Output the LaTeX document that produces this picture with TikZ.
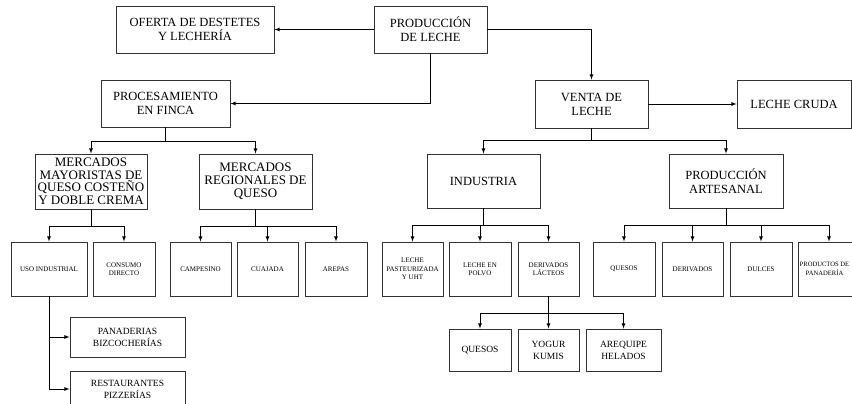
\documentclass[tikz,border=0pt]{standalone}
\usepackage{fontspec}
\setmainfont{Liberation Serif}
\usetikzlibrary{calc,arrows,positioning}

\begin{document}
\begin{tikzpicture}[x=1pt,y=-1pt]
\tikzstyle{bx}=[draw=black!80, line width=.9pt, inner sep=1pt, align=center, font=\fontsize{12.5}{14}\selectfont, minimum height=47pt]
\tikzstyle{sm}=[bx, font=\fontsize{7}{8.5}\selectfont, minimum width=61pt, minimum height=54pt]
\tikzstyle{md}=[bx, font=\fontsize{9.5}{12}\selectfont, minimum width=62pt, minimum height=42pt]
\tikzstyle{arr}=[-latex, line width=.8pt]

\useasboundingbox (0,0) rectangle (852,404);

\node[bx, minimum width=113pt] (prod) at (430.5,29.5) {PRODUCCIÓN\\DE LECHE};
\node[bx, minimum width=158pt] (ofer) at (195,29.5) {OFERTA DE DESTETES\\Y LECHERÍA};
\node[bx, minimum width=129pt] (proc) at (165.5,103.5) {PROCESAMIENTO\\EN FINCA};
\node[bx, minimum width=113pt, minimum height=48pt] (venta) at (591.5,104) {VENTA DE\\LECHE};
\node[bx, minimum width=114pt, minimum height=48pt] (cruda) at (794,104) {LECHE CRUDA};

\node[bx, minimum width=112pt, minimum height=55pt, font=\fontsize{13}{12.5}\selectfont] (mayor) at (91,181.5) {MERCADOS\\MAYORISTAS DE\\QUESO COSTEÑO\\Y DOBLE CREMA};
\node[bx, minimum width=113pt, minimum height=55pt, font=\fontsize{13}{13}\selectfont] (regio) at (255.5,181.5) {MERCADOS\\REGIONALES DE\\QUESO};
\node[bx, minimum width=113pt, minimum height=54pt] (indus) at (483.5,181) {INDUSTRIA};
\node[bx, minimum width=114pt, minimum height=54pt] (artes) at (726,181) {PRODUCCIÓN\\ARTESANAL};

\node[sm, minimum width=76pt] (uso) at (49,269) {USO INDUSTRIAL};
\node[sm, minimum width=62pt] (cons) at (124,269) {CONSUMO\\DIRECTO};
\node[sm] (campe) at (200.5,269) {CAMPESINO};
\node[sm] (cuaj) at (267.5,269) {CUAJADA};
\node[sm, minimum width=62pt] (arep) at (336,269) {AREPAS};
\node[sm] (pastz) at (412.5,269) {LECHE\\PASTEURIZADA\\Y UHT};
\node[sm, minimum width=62pt] (polvo) at (480,269) {LECHE EN\\POLVO};
\node[sm] (derlac) at (548.5,269) {DERIVADOS\\LÁCTEOS};
\node[sm, minimum width=62pt] (ques) at (624,269) {QUESOS};
\node[sm] (deriv) at (692.5,269) {DERIVADOS};
\node[sm, minimum width=62pt] (dulc) at (761,269) {DULCES};
\node[sm, minimum width=62pt, font=\fontsize{6.6}{8.5}\selectfont] (panad) at (829,269) {PRODUCTOS DE\hspace*{9pt}\\PANADERÍA\hspace*{9pt}};

\node[md, minimum width=115pt, minimum height=40pt] (panader) at (127.5,337) {PANADERIAS\\BIZCOCHERÍAS};
\node[md, minimum width=115pt, minimum height=36pt] (resta) at (127.5,389) {RESTAURANTES\\PIZZERÍAS};
\node[md] (ques2) at (480,350) {QUESOS};
\node[md, minimum width=61pt] (yogur) at (548.5,350) {YOGUR\\KUMIS};
\node[md, minimum width=75pt] (arequ) at (623.5,350) {AREQUIPE\\HELADOS};

\draw[arr] (prod) -- (ofer);
\draw[arr] (prod.south) |- (proc.east);
\draw[arr] (prod.east) -| (venta.north);
\draw[arr] (venta) -- (cruda);
\foreach \c in {mayor,regio} \draw[arr] (proc.south) -- ++(0,13.5) -| (\c.north);
\foreach \c in {indus,artes} \draw[arr] (venta.south) -- ++(0,12) -| (\c.north);
\foreach \c in {uso,cons} \draw[arr] (mayor.south) -- ++(0,16.5) -| (\c.north);
\foreach \c in {campe,cuaj,arep} \draw[arr] (regio.south) -- ++(0,16.5) -| (\c.north);
\foreach \c in {pastz,polvo,derlac} \draw[arr] (indus.south) -- ++(0,16.5) -| (\c.north);
\foreach \c in {ques,deriv,dulc,panad} \draw[arr] (artes.south) -- ++(0,16.5) -| (\c.north);
\foreach \c in {ques2,yogur,arequ} \draw[arr] (derlac.south) -- ++(0,16.5) -| (\c.north);
\foreach \c in {panader,resta} \draw[arr] (uso.south) |- (\c.west);
\end{tikzpicture}
\end{document}
